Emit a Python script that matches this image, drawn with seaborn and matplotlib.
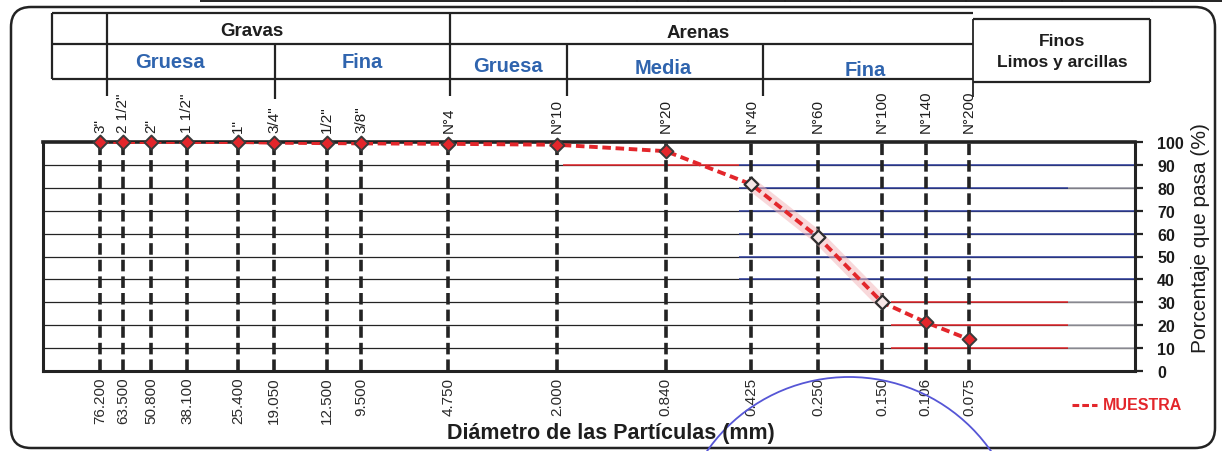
import matplotlib
matplotlib.use("Agg")
import matplotlib.pyplot as plt
from matplotlib.lines import Line2D
from matplotlib.patches import Ellipse, FancyBboxPatch
from matplotlib.ticker import NullLocator, FixedLocator, FixedFormatter
import seaborn as sns
import pandas as pd

# ---------------------------------------------------------------- datos
tamices = ['3"', '2 1/2"', '2"', '1 1/2"', '1"', '3/4"', '1/2"', '3/8"',
           'N°4', 'N°10', 'N°20', 'N°40', 'N°60', 'N°100', 'N°140', 'N°200']
diametros_mm = [76.2, 63.5, 50.8, 38.1, 25.4, 19.05, 12.5, 9.5,
                4.75, 2.0, 0.84, 0.425, 0.25, 0.15, 0.106, 0.075]
porcentaje_pasa = [100, 100, 100, 100, 100, 99.7, 99.5, 99.4,
                   99.2, 98.8, 96.0, 81.5, 58.5, 30.0, 21.3, 13.8]
niveles_pct = [0, 10, 20, 30, 40, 50, 60, 70, 80, 90, 100]

df = pd.DataFrame({"tamiz": tamices, "d": diametros_mm, "pasa": porcentaje_pasa})

# ---------------------------------------------------------------- estilo
W, H, DPI = 1222, 452, 100
ROJO = "#e3262b"
AZUL_TXT = "#2f64ae"
AZUL_GRID = "#2d3c9c"
NEGRO = "#232323"

sns.set_theme(style="white")
plt.rcParams["font.family"] = ["Liberation Sans", "DejaVu Sans"]


def fx(px):
    return px / W


def fy(py):
    return 1 - py / H


def linea(x0, y0, x1, y1, lw=1.6, color=NEGRO, ls="-"):
    fig.add_artist(Line2D([fx(x0), fx(x1)], [fy(y0), fy(y1)],
                          transform=fig.transFigure, color=color, lw=lw,
                          ls=ls, solid_capstyle="butt"))


fig = plt.figure(figsize=(W / DPI, H / DPI), dpi=DPI)
fig.patch.set_facecolor("white")
ax = fig.add_axes([fx(43), fy(372), fx(1135) - fx(43), fy(143) - fy(372)])

ax.set_xscale("log")
ax.set_xlim(120, 0.02)
ax.set_ylim(0, 100)

# rejilla horizontal
for nivel in niveles_pct[1:-1]:
    ax.axhline(nivel, color=NEGRO, lw=0.9, zorder=1)

# tramos de color de la rejilla (impresión original)
tramos = [
    (90, 1.9, 0.47, ROJO), (90, 0.47, 0.02, AZUL_GRID),
    (80, 0.47, 0.034, AZUL_GRID), (80, 0.034, 0.02, "#9a9aa6"),
    (70, 0.47, 0.02, AZUL_GRID), (60, 0.47, 0.02, AZUL_GRID),
    (50, 0.47, 0.02, AZUL_GRID), (40, 0.47, 0.02, AZUL_GRID),
    (30, 0.14, 0.034, ROJO), (30, 0.034, 0.02, "#a8a8b0"),
    (20, 0.14, 0.034, ROJO), (20, 0.034, 0.02, "#a8a8b0"),
    (10, 0.14, 0.034, ROJO), (10, 0.034, 0.02, "#a8a8b0"),
]
for nivel, xa, xb, c in tramos:
    ax.hlines(nivel, xa, xb, color=c, lw=1.1, zorder=1.5)

# líneas verticales de los tamices
ax.vlines(df["d"], 0, 100, colors=NEGRO, lw=2.6,
          linestyles=(0, (3.2, 1.4)), zorder=2)

# curva granulométrica
tramo_claro = df[(df["d"] <= 0.425) & (df["d"] >= 0.15)]
sns.lineplot(data=tramo_claro, x="d", y="pasa", ax=ax, color="#f3b8bc",
             lw=9, alpha=0.55, sort=False, zorder=2.5)
sns.lineplot(data=df, x="d", y="pasa", ax=ax, color=ROJO, lw=2.8,
             linestyle=(0, (2.2, 1.2)), sort=False, zorder=3)

huecos = df["d"].isin([0.425, 0.25, 0.15])
sns.scatterplot(data=df[~huecos], x="d", y="pasa", ax=ax, marker="D", s=50,
                color=ROJO, edgecolor="#3a3a3a", linewidth=1.4, zorder=4,
                clip_on=False)
sns.scatterplot(data=df[huecos], x="d", y="pasa", ax=ax, marker="D", s=50,
                color="#f6e6e6", edgecolor="#2e2e2e", linewidth=1.6, zorder=4,
                clip_on=False)

# ejes
for lado, lw in (("top", 2.6), ("bottom", 2.2), ("left", 2.2), ("right", 2.2)):
    ax.spines[lado].set_visible(True)
    ax.spines[lado].set_linewidth(lw)
    ax.spines[lado].set_color(NEGRO)

ax.set_xlabel("")
ax.set_ylabel("")
ax.xaxis.set_minor_locator(NullLocator())
ax.xaxis.set_major_locator(FixedLocator(diametros_mm))
ax.xaxis.set_major_formatter(FixedFormatter([f"{d:.3f}" for d in diametros_mm]))
ax.tick_params(axis="x", bottom=True, length=0, pad=4, labelsize=11,
               labelrotation=90, labelcolor="#2a2a2a")

ax.yaxis.tick_right()
ax.set_yticks(niveles_pct)
ax.tick_params(axis="y", right=True, left=False, direction="out", length=6,
               width=1.6, color=NEGRO, pad=10, labelsize=11.5,
               labelcolor="#1a1a1a")
for t in ax.get_yticklabels():
    t.set_fontweight("bold")
    t.set_horizontalalignment("left")

sec = ax.secondary_xaxis("top")
sec.set_xticks(diametros_mm, tamices)
sec.tick_params(axis="x", length=0, pad=7, labelsize=11, labelrotation=90,
                labelcolor="#1e1e1e")
sec.xaxis.set_minor_locator(NullLocator())
sec.spines["top"].set_visible(False)

fig.text(fx(611), fy(434), "Diámetro de las Partículas (mm)", ha="center",
         va="center", fontsize=15.5, fontweight="bold", color="#1e1e1e")
fig.text(fx(1201), fy(238), "Porcentaje que pasa (%)", ha="center",
         va="center", rotation=90, fontsize=15, color="#1e1e1e")

# leyenda
linea(1072, 406, 1097, 406, lw=2.2, color=ROJO, ls=(0, (2.2, 1.0)))
fig.text(fx(1103), fy(406), "MUESTRA", ha="left", va="center", fontsize=11.5,
         fontweight="bold", color=ROJO)

# ---------------------------------------------------------------- cuadro de clasificación
linea(52, 14, 973, 14)
linea(52, 45, 973, 45)
linea(52, 80, 973, 80)
linea(52, 14, 52, 80)
linea(107, 14, 107, 97)
linea(450, 14, 450, 97)
linea(275, 45, 275, 100)
linea(567, 45, 567, 97)
linea(763, 45, 763, 97)
linea(973, 20, 973, 98, lw=1.3)
linea(973, 20, 1150, 20)
linea(1150, 20, 1150, 83)
linea(973, 83, 1150, 83)

cab = dict(ha="center", va="center", color="#1e1e1e", fontweight="bold")
sub = dict(ha="center", va="center", color=AZUL_TXT, fontweight="bold")
fig.text(fx(252), fy(31), "Gravas", fontsize=13.5, **cab)
fig.text(fx(698), fy(34), "Arenas", fontsize=13.5, **cab)
fig.text(fx(1062), fy(41), "Finos", fontsize=12.5, **cab)
fig.text(fx(1062), fy(63), "Limos y arcillas", fontsize=12.5, **cab)
fig.text(fx(170), fy(63), "Gruesa", fontsize=14.5, **sub)
fig.text(fx(362), fy(62), "Fina", fontsize=14.5, **sub)
fig.text(fx(508), fy(66), "Gruesa", fontsize=14.5, **sub)
fig.text(fx(663), fy(69), "Media", fontsize=14.5, **sub)
fig.text(fx(865), fy(70), "Fina", fontsize=14.5, **sub)

# ---------------------------------------------------------------- marco de la hoja
marco = FancyBboxPatch((11 / DPI, (H - 449) / DPI), (1215 - 11) / DPI,
                       (449 - 8) / DPI,
                       boxstyle="round,pad=0,rounding_size=0.2",
                       transform=fig.dpi_scale_trans, fill=False,
                       edgecolor=NEGRO, lw=1.8)
fig.add_artist(marco)
linea(200, 2, 1222, 2, lw=1.4)
for xv in (637, 688, 785, 850, 966, 1062, 1152):
    linea(xv, 0, xv, 3, lw=1.2)

# trazo azul de sello
sello = Ellipse((fx(849), fy(551)), 2 * 173 / W, 2 * 173 / H,
                transform=fig.transFigure, fill=False, edgecolor="#5656d6",
                lw=1.3, clip_on=False)
fig.add_artist(sello)

fig.savefig("out.png", dpi=DPI, facecolor="white")
